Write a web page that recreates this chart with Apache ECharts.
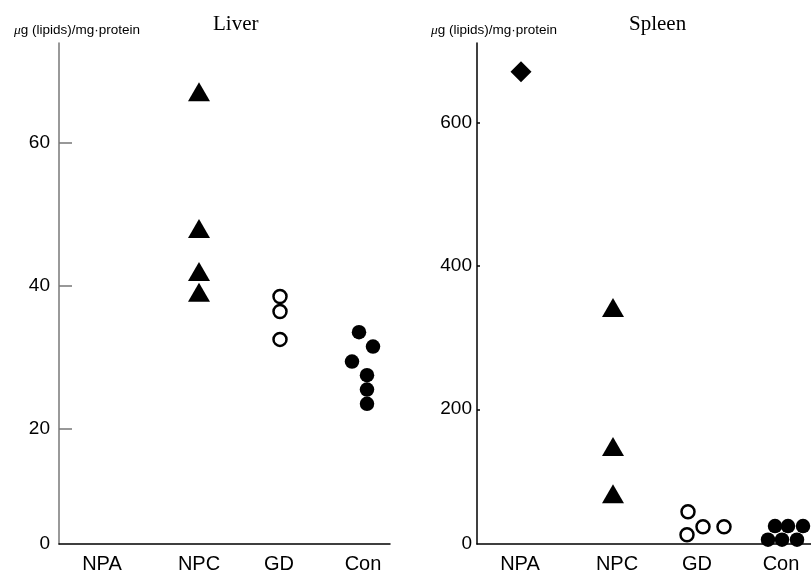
<!DOCTYPE html>
<html>
<head>
<meta charset="utf-8">
<script src="https://cdn.jsdelivr.net/npm/echarts@6/dist/echarts.min.js"></script>
<style>
  html, body { margin: 0; padding: 0; background: #fff; }
  #main { width: 811px; height: 575px; }
</style>
</head>
<body>
<div id="main"></div>
<script>
// groups along the x axis and where their labels sit (axis units)
const categories = ['NPA', 'NPC', 'GD', 'Con']
const catPos = [43, 140, 220, 304]

// Liver, µg lipids / mg protein
const liverNPC = [67.1, 48.0, 42.0, 39.1]
const liverNPCdx = [0, 0, 0, 0]
const liverGD = [38.5, 36.4, 32.5]
const liverGDdx = [1, 1, 1]
const liverCon = [33.5, 31.5, 29.4, 27.5, 25.5, 23.5]
const liverCondx = [-4, 10, -11, 4, 4, 4]
const liverTicks = [20, 40, 60]

// Spleen, µg lipids / mg protein
const spleenNPA = [671]
const spleenNPAdx = [1]
const spleenNPC = [342, 148, 82]
const spleenNPCdx = [-4, -4, -4]
const spleenGD = [57, 25, 36, 36]
const spleenGDdx = [-9, -10, 6, 27]
const spleenCon = [37, 37, 37, 18, 18, 18]
const spleenCondx = [-6, 7, 22, -13, 1, 16]
const spleenTicks = [200, 400, 600]

// bottom of each y axis is drawn as "0" in the original figure
const liverMin = 3.92
const liverMax = 73.9
const spleenMin = 12
const spleenMax = 711

function pts(cat, values, dx) {
  const x = catPos[categories.indexOf(cat)]
  return values.map((v, i) => [x + dx[i], v])
}

const sans = 'Liberation Sans, Arial, sans-serif'
const serif = 'Liberation Serif, Times New Roman, serif'

function xAxisOf(gridIndex, max) {
  return {
    type: 'value',
    gridIndex: gridIndex,
    min: 0,
    max: max,
    axisLine: { show: true, onZero: false, lineStyle: { color: '#000', width: 1.5 } },
    axisTick: { show: false },
    splitLine: { show: false },
    axisLabel: {
      customValues: catPos,
      formatter: v => categories[catPos.indexOf(v)] || '',
      color: '#000',
      fontFamily: sans,
      fontSize: 20,
      margin: 10
    }
  }
}

function yAxisOf(gridIndex, min, max, ticks, tickLen, lineColor, margin) {
  return {
    type: 'value',
    gridIndex: gridIndex,
    min: min,
    max: max,
    axisLine: { show: true, lineStyle: { color: lineColor, width: 1.5 } },
    axisTick: {
      show: true,
      inside: true,
      length: tickLen,
      customValues: ticks,
      lineStyle: { color: lineColor, width: 1.5 }
    },
    splitLine: { show: false },
    axisLabel: {
      customValues: [min].concat(ticks),
      formatter: v => (v === min ? '0' : String(v)),
      color: '#000',
      fontFamily: sans,
      fontSize: 19,
      margin: margin
    }
  }
}

const unitStyle = {
  fontFamily: sans, fontSize: 13.5, fontWeight: 'normal', color: '#000',
  rich: { i: { fontStyle: 'italic', fontSize: 13.5, fontFamily: serif, color: '#000' } }
}
const titleStyle = { fontFamily: serif, fontSize: 21, fontWeight: 'normal', color: '#000' }

const chart = echarts.init(document.getElementById('main'))
chart.setOption({
  animation: false,
  backgroundColor: '#fff',
  title: [
    { text: 'Liver', left: 208, top: 9, textStyle: titleStyle },
    { text: 'Spleen', left: 624, top: 9, textStyle: titleStyle },
    { text: '{i|μ}g (lipids)/mg·protein', left: 9, top: 18, textStyle: unitStyle },
    { text: '{i|μ}g (lipids)/mg·protein', left: 426, top: 18, textStyle: unitStyle }
  ],
  grid: [
    { left: 59, top: 43, width: 331, height: 501 },
    { left: 477, top: 43, width: 334, height: 501 }
  ],
  xAxis: [xAxisOf(0, 331), xAxisOf(1, 334)],
  yAxis: [
    yAxisOf(0, liverMin, liverMax, liverTicks, 13, '#777', 9),
    yAxisOf(1, spleenMin, spleenMax, spleenTicks, 3, '#000', 5)
  ],
  series: [
    // Liver
    { type: 'scatter', xAxisIndex: 0, yAxisIndex: 0, symbol: 'triangle', symbolSize: [22, 19],
      itemStyle: { color: '#000', opacity: 1 }, data: pts('NPC', liverNPC, liverNPCdx) },
    { type: 'scatter', xAxisIndex: 0, yAxisIndex: 0, symbol: 'circle', symbolSize: 13,
      itemStyle: { color: '#fff', borderColor: '#000', borderWidth: 2.5, opacity: 1 }, data: pts('GD', liverGD, liverGDdx) },
    { type: 'scatter', xAxisIndex: 0, yAxisIndex: 0, symbol: 'circle', symbolSize: 14.5,
      itemStyle: { color: '#000', opacity: 1 }, data: pts('Con', liverCon, liverCondx) },
    // Spleen
    { type: 'scatter', xAxisIndex: 1, yAxisIndex: 1, symbol: 'diamond', symbolSize: [21, 21],
      itemStyle: { color: '#000', opacity: 1 }, data: pts('NPA', spleenNPA, spleenNPAdx) },
    { type: 'scatter', xAxisIndex: 1, yAxisIndex: 1, symbol: 'triangle', symbolSize: [22, 19],
      itemStyle: { color: '#000', opacity: 1 }, data: pts('NPC', spleenNPC, spleenNPCdx) },
    { type: 'scatter', xAxisIndex: 1, yAxisIndex: 1, symbol: 'circle', symbolSize: 13,
      itemStyle: { color: '#fff', borderColor: '#000', borderWidth: 2.5, opacity: 1 }, data: pts('GD', spleenGD, spleenGDdx) },
    { type: 'scatter', xAxisIndex: 1, yAxisIndex: 1, symbol: 'circle', symbolSize: 14.5,
      itemStyle: { color: '#000', opacity: 1 }, data: pts('Con', spleenCon, spleenCondx) }
  ]
})
</script>
</body>
</html>
